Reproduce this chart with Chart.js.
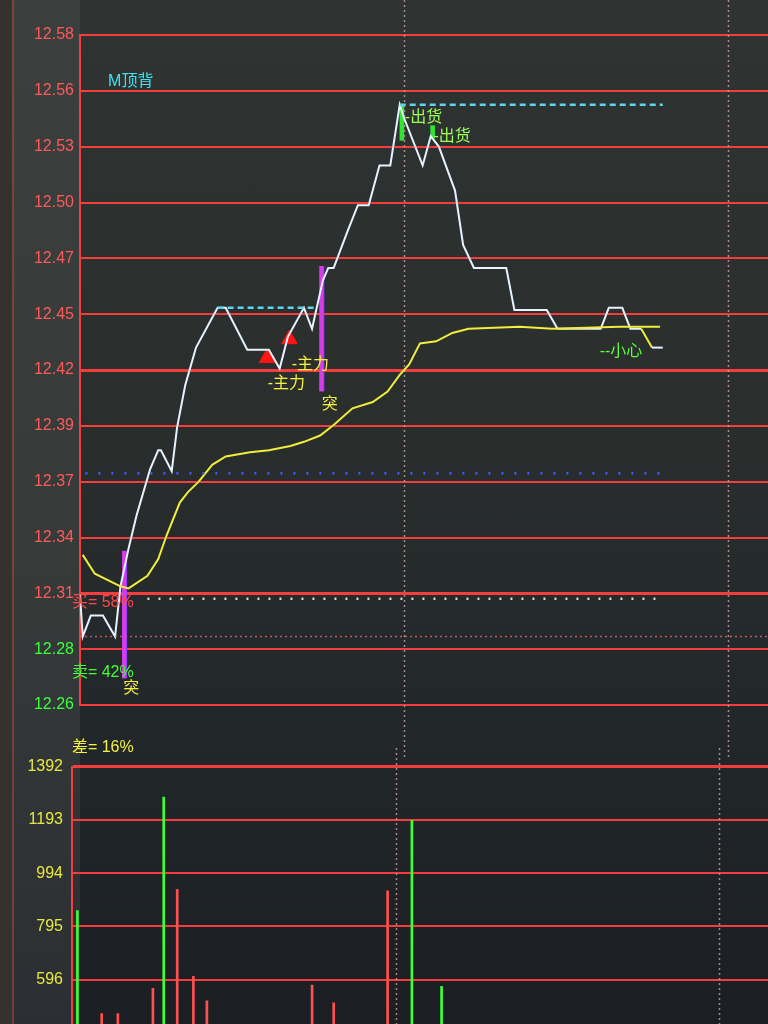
<!DOCTYPE html>
<html>
<head>
<meta charset="utf-8">
<script src="https://cdn.jsdelivr.net/npm/chart.js@4.4.1/dist/chart.umd.min.js"></script>
<style>
  html, body { margin: 0; padding: 0; width: 768px; height: 1024px; overflow: hidden; background: #2a2e2d; }
  #labelCol { position: absolute; left: 0; top: 0; width: 80px; height: 1024px;
    background: linear-gradient(#3b3f3d, #363a39 55%, #2b2f33); border-left: 12px solid #34312f; box-sizing: border-box; }
  #labelCol:after { content: ""; position: absolute; left: 0; top: 0; width: 2px; height: 100%; background: rgba(220,70,70,0.45); }
  #plotBg { position: absolute; left: 80px; top: 0; width: 688px; height: 1024px;
    background: linear-gradient(#2f3331, #2a2e2d 40%, #22272a 70%, #1b1f23); }
  #priceBox { position: absolute; left: 0; top: 0; }
  #volBox { position: absolute; left: -8px; top: 748px; }
</style>
</head>
<body>
<div id="labelCol"></div>
<div id="plotBg"></div>
<div id="priceBox"><canvas id="price" width="768" height="760"></canvas></div>
<div id="volBox"><canvas id="vol" width="776" height="410"></canvas></div>
<script>
// axis labels (evenly spaced lines, labels as printed)
const priceTickLabels = ['12.26', '12.28', '12.31', '12.34', '12.37', '12.39', '12.42',
                         '12.45', '12.47', '12.50', '12.53', '12.56', '12.58'];
const priceMin = 12.2583;
const priceMax = 12.5783;
const volMax = 1392;
const volSteps = 7;

// minute of session (0..240) for price line
const priceMinutes = [0, 1, 4, 8.5, 13, 15, 18, 21, 26, 29, 30, 34, 36, 39, 43, 51, 54, 62, 70, 74,
                      77, 83, 86, 90, 92, 94, 99, 103, 107, 111, 115, 118.5, 120, 127, 130, 133, 139, 142, 146, 158,
                      161, 173, 177, 193, 196, 201, 204, 208, 212, 216];
const prices = [12.311, 12.291, 12.301, 12.301, 12.291, 12.315, 12.333, 12.349, 12.371, 12.380,
                12.380, 12.370, 12.391, 12.411, 12.429, 12.448, 12.448, 12.428, 12.428, 12.419,
                12.434, 12.448, 12.438, 12.461, 12.467, 12.467, 12.484, 12.497, 12.497, 12.516,
                12.516, 12.545, 12.539, 12.516, 12.530, 12.525, 12.504, 12.478, 12.467, 12.467,
                12.447, 12.447, 12.438, 12.438, 12.448, 12.448, 12.438, 12.438, 12.429, 12.429];

// average price line
const avgMinutes = [1, 5.5, 15, 18, 25, 29, 32, 37, 40, 44, 49, 54, 63, 70, 78, 83, 89, 94, 101, 108.5,
                    114, 118.5, 122, 126, 132, 138, 144, 163, 175, 200, 215];
const avgPrices = [12.330, 12.321, 12.315, 12.314, 12.320, 12.328, 12.339, 12.355, 12.360, 12.365,
                   12.373, 12.377, 12.379, 12.380, 12.382, 12.384, 12.387, 12.392, 12.400, 12.403,
                   12.408, 12.416, 12.421, 12.431, 12.432, 12.436, 12.438, 12.439, 12.438, 12.439, 12.439];

// volume bars
const volMinutes = [2, 11, 17, 30, 34, 39, 45, 50, 89, 97, 117, 126, 137];
const volValues = [854, 470, 470, 564, 1278, 934, 609, 517, 576, 510, 928, 1191, 572];
const volSide = ['down', 'up', 'up', 'up', 'down', 'up', 'up', 'up', 'up', 'up', 'up', 'down', 'down'];

// signals
const breakMinutes = [16.5, 89.6];        // 突
const breakLow = [12.271, 12.408];
const breakHigh = [12.332, 12.468];
const sellMinutes = [119.3, 130.7];       // 出货
const sellLow = [12.528, 12.529];
const sellHigh = [12.545, 12.535];
const mainMinutes = [69.3, 77.6];         // 主力
const mainPrices = [12.424, 12.433];

// reference levels [from, to, price]
const topLevel1 = [51, 88, 12.448];
const topLevel2 = [118.5, 216, 12.545];
const blueLevel = [2, 215, 12.369];
const whiteLevel = [25, 215, 12.309];
const baseLevel = [0, 255, 12.291];

const sessionMarks = [120, 240];

const notes = [
  { text: 'M顶背', x: 10.4, y: 12.556, color: '#3fe2f2' },
  { text: '-出货', x: 120.4, y: 12.539, color: '#9cff55' },
  { text: '-出货', x: 131, y: 12.530, color: '#9cff55' },
  { text: '-主力', x: 69.6, y: 12.412, color: '#f2f040' },
  { text: '-主力', x: 78.5, y: 12.421, color: '#f2f040' },
  { text: '突', x: 19, y: 12.266, color: '#f2f040', align: 'center' },
  { text: '突', x: 92.6, y: 12.402, color: '#f2f040', align: 'center' },
  { text: '--小心', x: 192.6, y: 12.427, color: '#5cff3c' },
  { text: '买= 58%', x: -3, y: 12.307, color: '#ff4848' },
  { text: '卖= 42%', x: -3, y: 12.274, color: '#44ff3a' },
  { text: '差= 16%', x: -3, y: 12.238, color: '#f2f040' }
];

const FONT = '"Liberation Sans", "Noto Sans CJK SC", sans-serif';
const GRID = 'rgba(255,62,62,0.95)';

const toXY = (xs, ys) => xs.map((x, i) => ({ x: x, y: ys[i] }));
const level = l => [{ x: l[0], y: l[2] }, { x: l[1], y: l[2] }];

const sessionLines = {
  id: 'sessionLines',
  beforeDatasetsDraw(chart) {
    const ctx = chart.ctx;
    const xs = chart.scales.x;
    ctx.save();
    ctx.strokeStyle = 'rgba(230,175,175,0.7)';
    ctx.lineWidth = 1.5;
    ctx.setLineDash([2, 3]);
    sessionMarks.forEach(m => {
      const px = Math.round(xs.getPixelForValue(m)) + 0.5;
      ctx.beginPath();
      ctx.moveTo(px, 0);
      ctx.lineTo(px, chart.height);
      ctx.stroke();
    });
    ctx.restore();
  }
};

const noteText = {
  id: 'noteText',
  afterDatasetsDraw(chart) {
    const ctx = chart.ctx;
    const xs = chart.scales.x, ys = chart.scales.y;
    ctx.save();
    ctx.font = '16px ' + FONT;
    ctx.textBaseline = 'middle';
    notes.forEach(n => {
      ctx.fillStyle = n.color;
      ctx.textAlign = n.align || 'left';
      ctx.fillText(n.text, xs.getPixelForValue(n.x), ys.getPixelForValue(n.y));
    });
    ctx.restore();
  }
};

const evenTicks = (count, lo, hi) => scale => {
  scale.ticks = [];
  for (let i = 0; i < count; i++) {
    scale.ticks.push({ value: lo + i * (hi - lo) / (count - 1) });
  }
};

new Chart(document.getElementById('price'), {
  type: 'line',
  data: {
    datasets: [
      {
        data: level(baseLevel), borderColor: 'rgba(210,110,110,0.8)', borderWidth: 1.5,
        borderDash: [2, 3], pointRadius: 0
      },
      {
        data: level(whiteLevel), borderColor: '#d8d8d8', borderWidth: 2.5,
        borderDash: [2, 9], pointRadius: 0
      },
      {
        data: level(blueLevel), borderColor: '#3f5cff', borderWidth: 2.5,
        borderDash: [2, 11], pointRadius: 0
      },
      {
        data: level(topLevel1), borderColor: '#5cd6ee', borderWidth: 2.5,
        borderDash: [6, 4], pointRadius: 0
      },
      {
        data: level(topLevel2), borderColor: '#5cd6ee', borderWidth: 2.5,
        borderDash: [6, 4], pointRadius: 0
      },
      {
        data: toXY(avgMinutes, avgPrices), borderColor: '#f0ee3c', borderWidth: 2,
        pointRadius: 0, tension: 0
      },
      {
        data: toXY(priceMinutes, prices), borderColor: '#e6f3ff', borderWidth: 2,
        pointRadius: 0, tension: 0,
        segment: { borderColor: c => c.p0DataIndex === 47 ? '#f0ee3c' : undefined }
      },
      {
        type: 'bar', grouped: false, barThickness: 5,
        data: breakMinutes.map((m, i) => ({ x: m, y: [breakLow[i], breakHigh[i]] })),
        backgroundColor: '#d63ce8', borderColor: '#7a3cff', borderWidth: { right: 1 }
      },
      {
        type: 'bar', grouped: false, barThickness: 4,
        data: sellMinutes.map((m, i) => ({ x: m, y: [sellLow[i], sellHigh[i]] })),
        backgroundColor: '#2fe52f'
      },
      {
        type: 'scatter',
        data: toXY(mainMinutes, mainPrices), pointStyle: 'triangle', pointRadius: 9,
        backgroundColor: '#ff1414', borderColor: '#ff1414', borderWidth: 1
      }
    ]
  },
  options: {
    responsive: false,
    animation: false,
    layout: { autoPadding: false, padding: { top: 35, bottom: 55, left: 0, right: 0 } },
    plugins: { legend: { display: false }, tooltip: { enabled: false } },
    scales: {
      x: { type: 'linear', min: 0, max: 255, offset: false, display: false },
      y: {
        type: 'linear', min: priceMin, max: priceMax,
        afterBuildTicks: evenTicks(priceTickLabels.length, priceMin, priceMax),
        afterFit: s => { s.width = 80; },
        grid: {
          color: GRID, drawTicks: false,
          lineWidth: c => (c.index === 2 || c.index === 6) ? 3 : 2
        },
        border: { display: true, color: GRID, width: 2 },
        ticks: {
          padding: 6,
          font: { size: 16, family: FONT },
          color: c => c.index >= 2 ? '#ff5a5a' : '#3cff3c',
          callback: (v, i) => priceTickLabels[i]
        }
      }
    }
  },
  plugins: [sessionLines, noteText]
});

new Chart(document.getElementById('vol'), {
  type: 'bar',
  data: {
    datasets: [{
      data: toXY(volMinutes, volValues),
      backgroundColor: volSide.map(s => s === 'up' ? '#ff5050' : '#3cff3c'),
      barThickness: 2
    }]
  },
  options: {
    responsive: false,
    animation: false,
    layout: { autoPadding: false, padding: { top: 15, bottom: 6, left: 0, right: 0 } },
    plugins: { legend: { display: false }, tooltip: { enabled: false } },
    scales: {
      x: { type: 'linear', min: 0, max: 258, offset: false, display: false },
      y: {
        type: 'linear', min: 0, max: volMax,
        afterBuildTicks: evenTicks(volSteps + 1, 0, volMax),
        afterFit: s => { s.width = 80; },
        grid: {
          color: GRID, drawTicks: false,
          lineWidth: c => c.index === volSteps ? 3 : 2
        },
        border: { display: true, color: GRID, width: 2 },
        ticks: {
          padding: 9,
          font: { size: 16, family: FONT },
          color: '#e8e83e',
          callback: v => Math.floor(v + 1e-6)
        }
      }
    }
  },
  plugins: [sessionLines]
});
</script>
</body>
</html>
